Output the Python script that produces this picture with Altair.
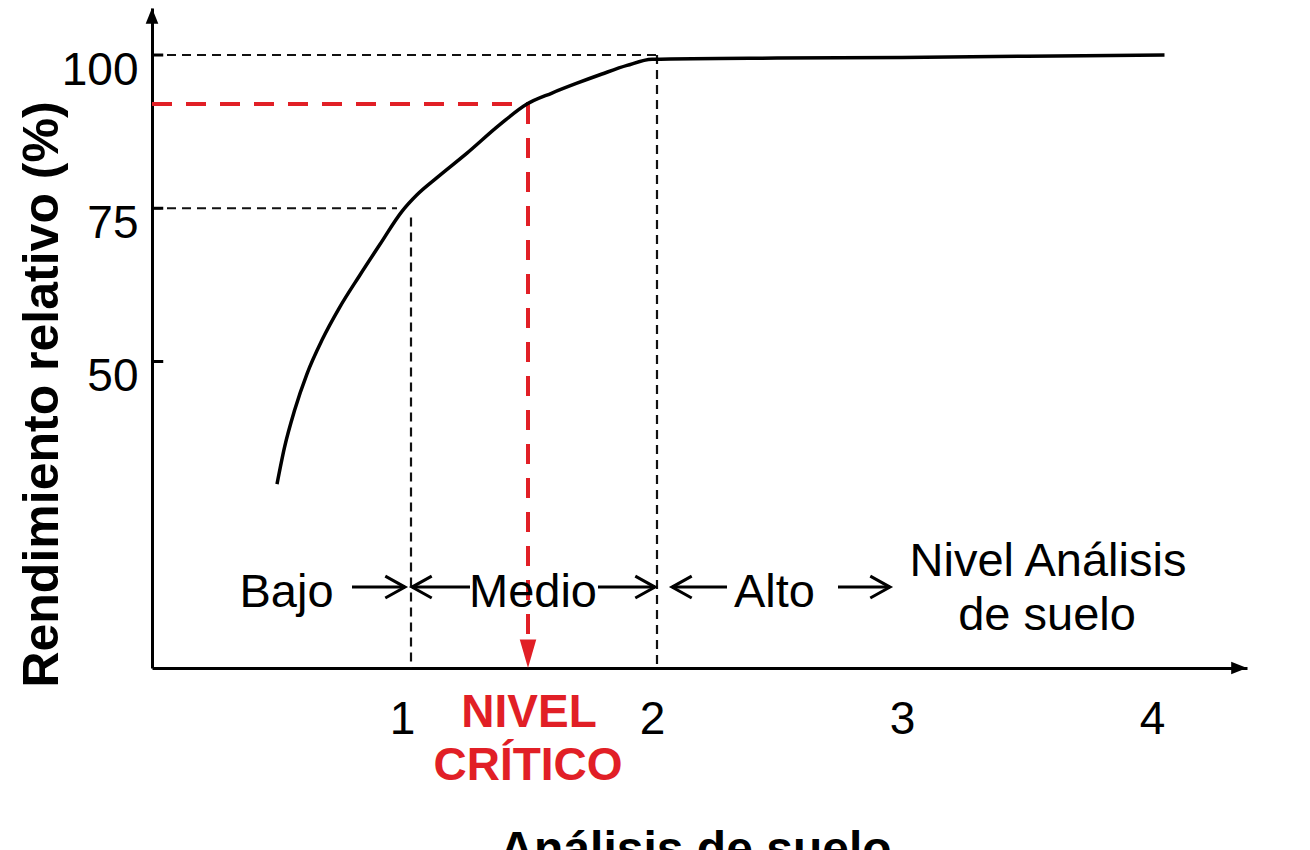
import altair as alt
import pandas as pd

X_MAX = 4.38
Y_MAX = 107.67

# response curve
curve_x = [0.50, 0.53, 0.57, 0.62, 0.68, 0.75, 0.83, 0.91, 1.00, 1.06, 1.14, 1.26, 1.39, 1.50, 1.60, 1.70, 1.80, 1.90, 2.00, 2.50, 3.00, 3.50, 4.05]
curve_y = [30.0, 36.0, 42.0, 48.0, 53.5, 58.8, 64.0, 69.0, 74.5, 77.2, 80.0, 84.0, 88.6, 92.0, 93.8, 95.4, 96.9, 98.3, 99.3, 99.5, 99.6, 99.8, 100.0]

x_ticks = [1, 2, 3, 4]
y_ticks = [50, 75, 100]

# black dashed guides
guide_x = [0.0, 2.02, 0.0, 1.036]
guide_x2 = [2.02, 2.02, 0.98, 1.036]
guide_y = [100.0, 100.0, 75.0, 73.5]
guide_y2 = [100.0, 0.0, 75.0, 0.0]

# red critical level guides
critical_x = 1.504
critical_y = 92.0
red_x = [0.0, critical_x]
red_x2 = [critical_x, critical_x]
red_y = [critical_y, critical_y]
red_y2 = [critical_y, 4.6]

# level arrows (shafts) and heads
arrow_level = 13.2
shaft_x = [0.80, 1.04, 1.784, 2.08, 2.744]
shaft_x2 = [1.012, 1.272, 2.012, 2.30, 2.952]
head_x = [1.012, 1.04, 2.012, 2.08, 2.952]
head_dir = ["r", "l", "r", "l", "r"]

# texts
label_text = ["Bajo", "Medio", "Alto", "Nivel Análisis", "de suelo"]
label_x = [0.538, 1.524, 2.49, 3.584, 3.58]
label_y = [12.28, 12.28, 12.28, 17.34, 8.5]
crit_text = ["NIVEL", "CRÍTICO"]
crit_x = [1.508, 1.504]
crit_y = [-7.29, -15.94]

RED = "#e11f26"
FONT = "Liberation Sans"

xs = alt.Scale(domain=[0, X_MAX], nice=False, zero=False)
ys = alt.Scale(domain=[0, Y_MAX], nice=False, zero=False)

AX = alt.Axis(
    values=x_ticks, grid=False, ticks=False, domainColor="black", domainWidth=3,
    labelFont=FONT, labelFontSize=46, labelColor="black", labelPadding=29,
    labelFontWeight="normal",
    title="Análisis de suelo", titleFont=FONT, titleFontSize=48, titleFontWeight="bold",
    titleColor="black", titleX=543, titleY=158, titleBaseline="top", titleAlign="center",
)
AY = alt.Axis(
    values=y_ticks, grid=False, ticks=False, domainColor="black", domainWidth=3,
    labelFont=FONT, labelFontSize=46, labelColor="black", labelPadding=14, labelOffset=15,
    title="Rendimiento relativo (%)", titleFont=FONT, titleFontSize=50, titleFontWeight="bold",
    titleColor="black", titleAngle=270, titleX=-110, titleY=386, titleBaseline="middle",
    titleAlign="center",
)


def X(field="x"):
    return alt.X(f"{field}:Q", scale=xs, axis=AX)


def Y(field="y"):
    return alt.Y(f"{field}:Q", scale=ys, axis=AY)


RIGHT = "M-1.8,-1L0,0L-1.8,1"
LEFT = "M1.8,-1L0,0L1.8,1"

curve_df = pd.DataFrame({"x": curve_x, "y": curve_y})
curve = alt.Chart(curve_df).mark_line(color="black", strokeWidth=3.5, interpolate="monotone").encode(
    x=X(), y=Y()
)

guides_df = pd.DataFrame({"x": guide_x, "x2": guide_x2, "y": guide_y, "y2": guide_y2})
guides = alt.Chart(guides_df).mark_rule(color="#111111", strokeWidth=2.2, strokeDash=[9, 6]).encode(
    x=X(), x2="x2:Q", y=Y(), y2="y2:Q",
)

red_df = pd.DataFrame({"x": red_x, "x2": red_x2, "y": red_y, "y2": red_y2})
red = alt.Chart(red_df).mark_rule(color=RED, strokeWidth=4, strokeDash=[20, 14]).encode(
    x=X(), x2="x2:Q", y=Y(), y2="y2:Q",
)

red_head_df = pd.DataFrame({"x": [critical_x], "y": [0.0]})
red_head = alt.Chart(red_head_df).mark_point(
    shape="M0,0L-0.55,-1.9L0.55,-1.9Z", filled=True, color=RED, opacity=1, size=900, strokeWidth=0
).encode(x=X(), y=Y())

ytick_df = pd.DataFrame({"x": [0.0] * len(y_ticks), "x2": [0.045] * len(y_ticks), "y": y_ticks})
yticks = alt.Chart(ytick_df).mark_rule(color="black", strokeWidth=3).encode(
    x=X(), x2="x2:Q", y=Y(),
)

yarrow = alt.Chart(pd.DataFrame({"x": [0.0], "y": [Y_MAX]})).mark_point(
    shape="M0,0L-0.4,1.0L0.4,1.0Z", filled=True, color="black", opacity=1, size=1000, strokeWidth=0
).encode(x=X(), y=Y())

xarrow = alt.Chart(pd.DataFrame({"x": [X_MAX], "y": [0.0]})).mark_point(
    shape="M0,0L-1.0,-0.4L-1.0,0.4Z", filled=True, color="black", opacity=1, size=1000, strokeWidth=0
).encode(x=X(), y=Y())

shaft_df = pd.DataFrame({"x": shaft_x, "x2": shaft_x2, "y": [arrow_level] * len(shaft_x)})
shafts = alt.Chart(shaft_df).mark_rule(color="black", strokeWidth=3).encode(
    x=X(), x2="x2:Q", y=Y(),
)

head_df = pd.DataFrame({
    "x": head_x, "y": [arrow_level] * len(head_x),
    "shape": [RIGHT if d == "r" else LEFT for d in head_dir],
})
heads = alt.Chart(head_df).mark_point(filled=False, color="black", opacity=1, size=480, strokeWidth=3).encode(
    x=X(), y=Y(),
    shape=alt.Shape("shape:N", scale=None, legend=None),
)

text_df = pd.DataFrame({"x": label_x, "y": label_y, "t": label_text})
texts = alt.Chart(text_df).mark_text(
    font=FONT, fontSize=47, color="black", align="center", baseline="middle"
).encode(x=X(), y=Y(), text="t:N")

crit_df = pd.DataFrame({"x": crit_x, "y": crit_y, "t": crit_text})
crit = alt.Chart(crit_df).mark_text(
    font=FONT, fontSize=46, fontWeight="bold", color=RED, align="center", baseline="middle"
).encode(x=X(), y=Y(), text="t:N")

chart = alt.layer(
    guides, red, curve, yticks, shafts, heads, red_head, yarrow, xarrow, texts, crit
).properties(
    width=1095, height=660,
    autosize=alt.AutoSizeParams(type="none"),
    padding={"left": 144, "top": 0, "right": 55, "bottom": 182},
    background="white",
).configure_view(stroke=None)

chart.save("out.html", embed_options={"renderer": "svg", "actions": False})
